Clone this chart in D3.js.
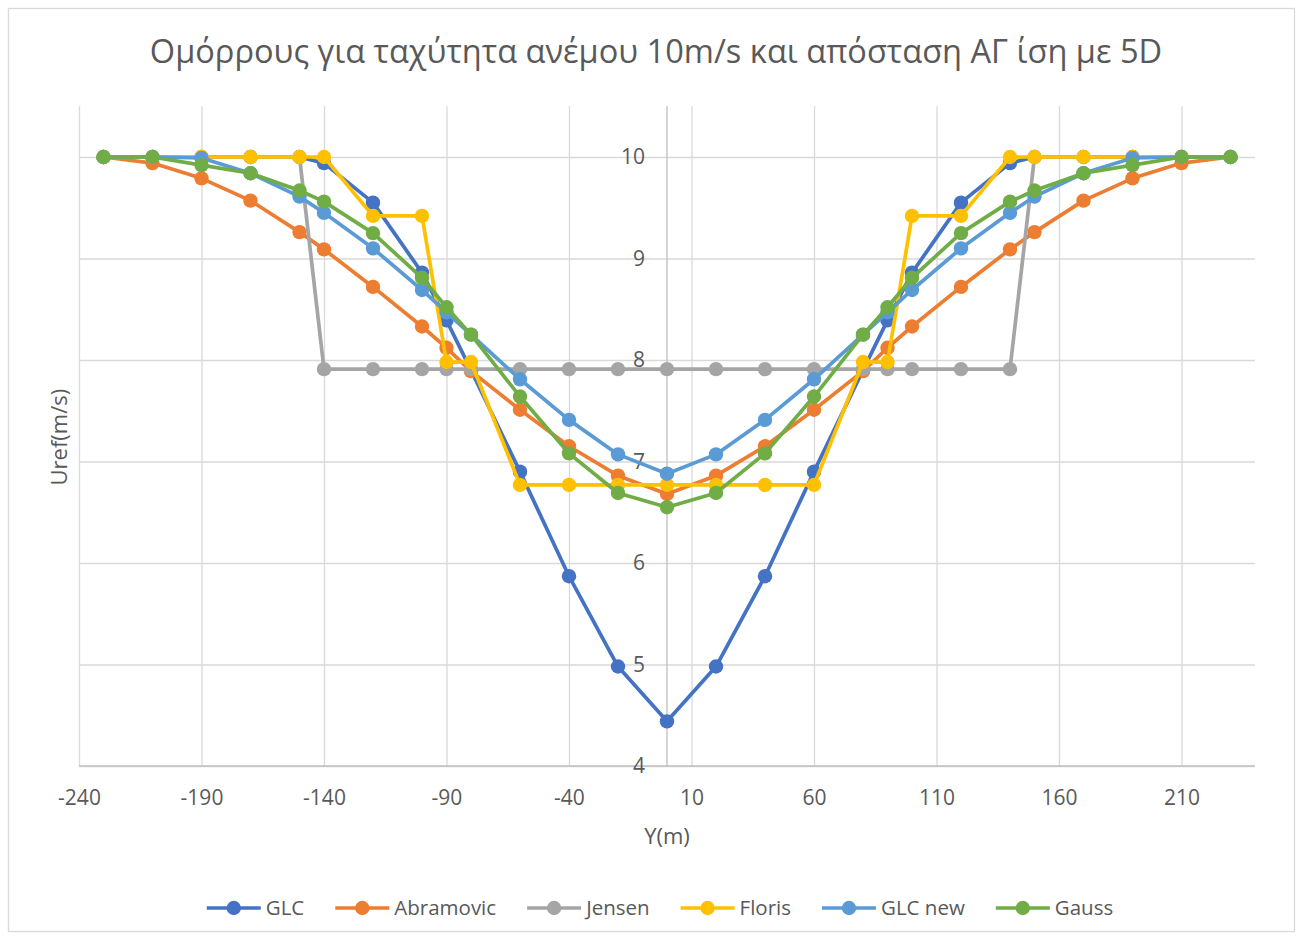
<!DOCTYPE html>
<html>
<head>
<meta charset="utf-8">
<script src="https://cdn.jsdelivr.net/npm/d3@7"></script>
<style>
  html, body { margin: 0; padding: 0; background: #ffffff; }
  svg { display: block; font-family: "Open Sans", "Noto Sans", sans-serif; }
</style>
</head>
<body>
<svg id="chart" width="1303" height="940"></svg>
<script>
// Lateral positions across the wake (m)
const positions = [-230, -210, -190, -170, -150, -140, -120, -100, -90, -80, -60, -40, -20, 0,
                   20, 40, 60, 80, 90, 100, 120, 140, 150, 170, 190, 210, 230];

// Wind speed per wake model (m/s)
const glc       = [10, 10, 10, 10, 10, 9.94, 9.55, 8.86, 8.39, 7.90, 6.90, 5.87, 4.98, 4.44,
                   4.98, 5.87, 6.90, 7.90, 8.39, 8.86, 9.55, 9.94, 10, 10, 10, 10, 10];
const abramovic = [10, 9.94, 9.79, 9.57, 9.26, 9.09, 8.72, 8.33, 8.12, 7.89, 7.51, 7.15, 6.86, 6.68,
                   6.86, 7.15, 7.51, 7.89, 8.12, 8.33, 8.72, 9.09, 9.26, 9.57, 9.79, 9.94, 10];
const jensen    = [10, 10, 10, 10, 10, 7.91, 7.91, 7.91, 7.91, 7.91, 7.91, 7.91, 7.91, 7.91,
                   7.91, 7.91, 7.91, 7.91, 7.91, 7.91, 7.91, 7.91, 10, 10, 10, 10, 10];
const floris    = [10, 10, 10, 10, 10, 10, 9.42, 9.42, 7.98, 7.98, 6.77, 6.77, 6.77, 6.77,
                   6.77, 6.77, 6.77, 7.98, 7.98, 9.42, 9.42, 10, 10, 10, 10, 10, 10];
const glcNew    = [10, 10, 9.99, 9.84, 9.61, 9.45, 9.10, 8.69, 8.47, 8.25, 7.81, 7.41, 7.07, 6.88,
                   7.07, 7.41, 7.81, 8.25, 8.47, 8.69, 9.10, 9.45, 9.61, 9.84, 9.99, 10, 10];
const gauss     = [10, 10, 9.92, 9.84, 9.67, 9.56, 9.25, 8.81, 8.52, 8.25, 7.64, 7.08, 6.69, 6.55,
                   6.69, 7.08, 7.64, 8.25, 8.52, 8.81, 9.25, 9.56, 9.67, 9.84, 9.92, 10, 10];

const seriesNames  = ["GLC", "Abramovic", "Jensen", "Floris", "GLC new", "Gauss"];
const seriesValues = [glc, abramovic, jensen, floris, glcNew, gauss];
const seriesColors = ["#4472C4", "#ED7D31", "#A5A5A5", "#FFC000", "#5B9BD5", "#70AD47"];

const xTicks = [-240, -190, -140, -90, -40, 10, 60, 110, 160, 210];
const yTicks = [4, 5, 6, 7, 8, 9, 10];

const titleText = "Ομόρρους για ταχύτητα ανέμου 10m/s και απόσταση ΑΓ ίση με 5D";
const xTitle = "Y(m)";
const yTitle = "Uref(m/s)";

const svg = d3.select("#chart");
const W = 1303, H = 940;
const plot = { left: 79, right: 1255, top: 106.25, bottom: 766 };

const textColor = "#595959";
const gridColor = "#D9D9D9";
const axisColor = "#BFBFBF";
const plainNumber = d => String(d);

// Outer chart frame
svg.append("rect")
  .attr("x", 8.5).attr("y", 8.5)
  .attr("width", W - 17).attr("height", H - 17)
  .attr("fill", "#ffffff").attr("stroke", gridColor).attr("stroke-width", 1.3);

const x = d3.scaleLinear().domain([-240, 240]).range([plot.left, plot.right]);
const y = d3.scaleLinear().domain([4, 10.5]).range([plot.bottom, plot.top]);

// Title, fitted to its width
const title = svg.append("text")
  .attr("x", 656).attr("y", 63)
  .attr("text-anchor", "middle")
  .attr("fill", textColor)
  .attr("font-size", 30)
  .text(titleText);
const tw = title.node().getComputedTextLength();
title.attr("font-size", 30 * 1013 / tw);

// Horizontal gridlines
svg.append("g")
  .attr("transform", `translate(${plot.left},0)`)
  .call(d3.axisLeft(y).tickValues(yTicks).tickSize(-(plot.right - plot.left)).tickFormat(""))
  .call(g => g.select(".domain").remove())
  .call(g => g.selectAll("line").attr("stroke", gridColor).attr("stroke-width", 1.3));

// Vertical gridlines
svg.append("g")
  .attr("transform", `translate(0,${plot.bottom})`)
  .call(d3.axisBottom(x).tickValues(xTicks).tickSize(-(plot.bottom - plot.top)).tickFormat(""))
  .call(g => g.select(".domain").remove())
  .call(g => g.selectAll("line").attr("stroke", gridColor).attr("stroke-width", 1.3));

// Horizontal axis line with tick labels
svg.append("g")
  .attr("transform", `translate(0,${plot.bottom})`)
  .call(d3.axisBottom(x).tickValues(xTicks).tickSize(0).tickPadding(24).tickFormat(plainNumber))
  .call(g => g.select(".domain").attr("stroke", axisColor).attr("stroke-width", 1.3)
              .attr("d", `M${plot.left},0H${plot.right}`))
  .call(g => g.selectAll("text").attr("fill", textColor).attr("font-size", 21)
              .attr("font-family", "'Open Sans', sans-serif"));

// Vertical axis at Y = 0 with tick labels
svg.append("g")
  .attr("transform", `translate(${x(0)},0)`)
  .call(d3.axisLeft(y).tickValues(yTicks).tickSize(0).tickPadding(22).tickFormat(plainNumber))
  .call(g => g.select(".domain").attr("stroke", axisColor).attr("stroke-width", 1.3)
              .attr("d", `M0,${plot.bottom}V${plot.top}`))
  .call(g => g.selectAll("text").attr("fill", textColor).attr("font-size", 21)
              .attr("font-family", "'Open Sans', sans-serif"));

// Axis titles
svg.append("text")
  .attr("x", x(0)).attr("y", 844)
  .attr("text-anchor", "middle").attr("fill", textColor).attr("font-size", 22)
  .text(xTitle);
svg.append("text")
  .attr("transform", `translate(67,${(plot.top + plot.bottom) / 2 + 1}) rotate(-90)`)
  .attr("text-anchor", "middle").attr("fill", textColor).attr("font-size", 22)
  .text(yTitle);

// Series: line and markers drawn together, one model after another
const line = d3.line().x(d => x(d[0])).y(d => y(d[1]));
seriesValues.forEach((vals, i) => {
  const pts = positions.map((p, k) => [p, vals[k]]);
  const g = svg.append("g").attr("class", "series");
  g.append("path")
    .attr("d", line(pts))
    .attr("fill", "none")
    .attr("stroke", seriesColors[i])
    .attr("stroke-width", 3.7)
    .attr("stroke-linejoin", "round");
  g.selectAll("circle").data(pts).join("circle")
    .attr("cx", d => x(d[0])).attr("cy", d => y(d[1]))
    .attr("r", 7.2)
    .attr("fill", seriesColors[i]);
});

// Legend
const legend = svg.append("g");
const ly = 908;
const gap = 31;
let cursor = 0;
seriesNames.forEach((name, i) => {
  const item = legend.append("g").attr("transform", `translate(${cursor},0)`);
  item.append("line")
    .attr("x1", 0).attr("x2", 54).attr("y1", ly).attr("y2", ly)
    .attr("stroke", seriesColors[i]).attr("stroke-width", 3.7);
  item.append("circle").attr("cx", 27).attr("cy", ly).attr("r", 7.2).attr("fill", seriesColors[i]);
  const t = item.append("text")
    .attr("x", 59).attr("y", ly + 7)
    .attr("fill", textColor).attr("font-size", 20.5)
    .text(name);
  cursor += 59 + t.node().getComputedTextLength() + gap;
});
const legendWidth = cursor - gap;
legend.attr("transform", `translate(${660 - legendWidth / 2},0)`);
</script>
</body>
</html>
